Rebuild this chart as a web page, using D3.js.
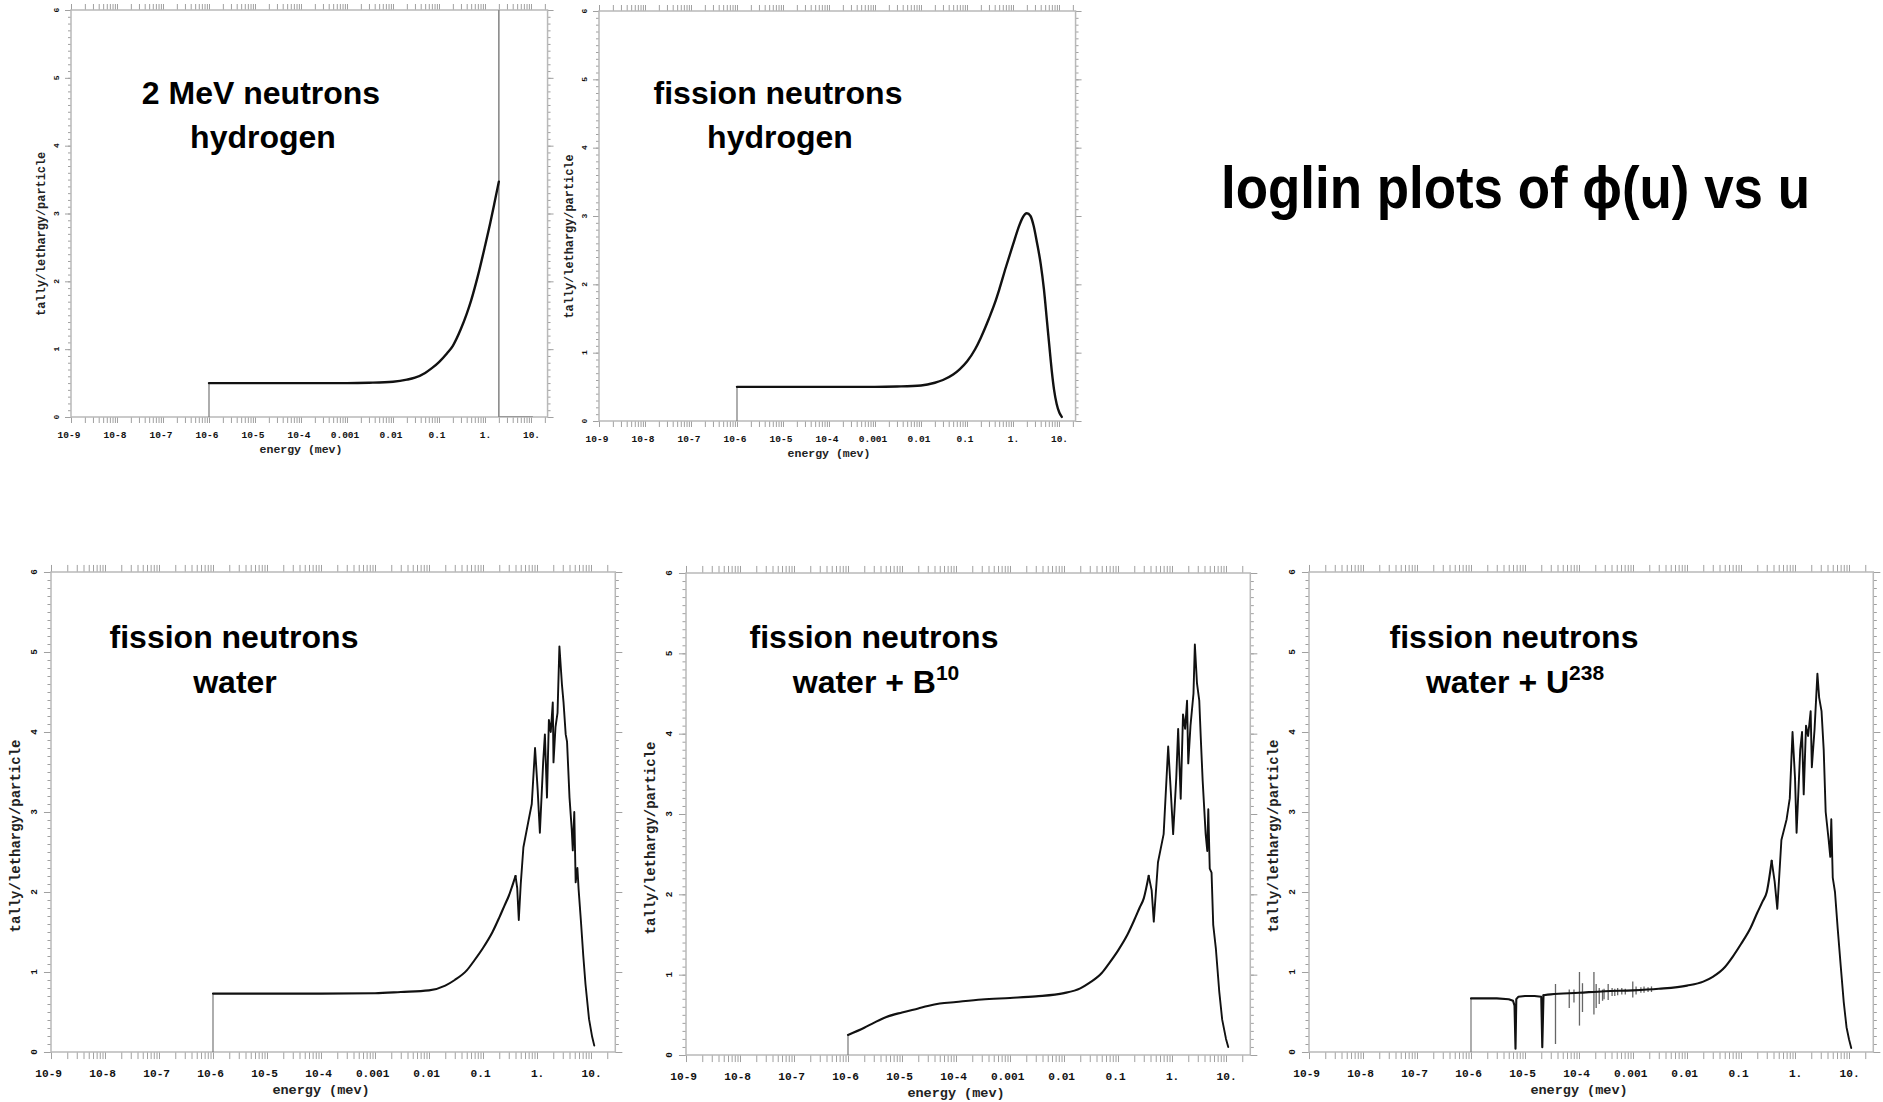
<!DOCTYPE html>
<html><head><meta charset="utf-8">
<script src="https://cdn.jsdelivr.net/npm/d3@7"></script>
<style>
html,body{margin:0;padding:0;background:#fff;}
svg{display:block;}
</style></head><body>
<svg id="chart" width="1883" height="1102"></svg>
<script>
// ---------------- DATA ----------------
const xTickValues = [1e-9,1e-8,1e-7,1e-6,1e-5,1e-4,1e-3,1e-2,1e-1,1,10];
const xTickLabels = ["10-9","10-8","10-7","10-6","10-5","10-4","0.001","0.01","0.1","1.","10."];
const yTickValues = [0,1,2,3,4,5,6];
const yTickLabels = ["0","1","2","3","4","5","6"];
const xAxisTitle = "energy (mev)";
const yAxisTitle = "tally/lethargy/particle";
const mainTitle = "loglin plots of \u03D5(u) vs u";

// 2 MeV neutrons in hydrogen
const h2E   = [1e-6,1e-5,1e-4,1e-3,0.003,0.01,0.02,0.03,0.05,0.07,0.1,0.15,0.2,0.3,0.4,0.5,0.7,1.0,1.3,1.6,2.0];
const h2Phi = [0.5,0.5,0.5,0.5,0.505,0.52,0.55,0.58,0.65,0.72,0.81,0.94,1.05,1.30,1.52,1.72,2.08,2.52,2.86,3.15,3.47];
const h2SourceE = 2.0;          // source line energy
const h2TailEnd = 11;           // zero tally above source up to here

// fission neutrons in hydrogen
const fhE   = [1e-6,1e-4,1e-3,0.003,0.01,0.02,0.03,0.05,0.07,0.1,0.15,0.2,0.3,0.4,0.5,0.7,1.0,1.3,1.6,2.0,2.4,2.8,3.3,4.0,4.7,5.5,6.2,7.0,7.8,8.9,10.2,11.5];
const fhPhi = [0.5,0.5,0.5,0.505,0.52,0.56,0.6,0.68,0.76,0.87,1.05,1.22,1.5,1.72,1.92,2.25,2.58,2.82,2.97,3.04,3.0,2.86,2.62,2.3,1.93,1.45,1.08,0.72,0.46,0.25,0.12,0.06];

// fission neutrons in water
const fwE   = [1e-6,1e-5,1e-4,1e-3,0.003,0.01,0.02,0.03,0.05,0.07,0.1,0.15,0.2,0.25,0.3,0.35,0.4,0.43,0.46,0.5,0.56,0.7,0.8,0.92,1.03,1.13,1.3,1.4,1.53,1.66,1.8,1.96,2.02,2.2,2.4,2.6,2.9,3.1,3.4,3.6,4.0,4.4,4.6,4.9,5.2,5.6,5.9,6.5,7.2,7.9,9.2,10.5,11.5];
const fwPhi = [0.73,0.73,0.73,0.735,0.75,0.77,0.83,0.9,1.02,1.15,1.3,1.5,1.68,1.83,1.95,2.08,2.2,2.05,1.65,2.1,2.56,2.9,3.1,3.8,3.27,2.74,3.62,3.97,3.18,4.15,4.0,4.37,3.62,4.06,4.24,5.07,4.59,4.37,3.97,3.88,3.18,2.78,2.52,3.0,2.12,2.3,2.03,1.64,1.2,0.85,0.41,0.19,0.08];

// fission neutrons in water + B10
const fbE   = [1e-6,2e-6,3e-6,5e-6,1e-5,2e-5,3e-5,5e-5,1e-4,3e-4,1e-3,0.003,0.01,0.02,0.03,0.05,0.07,0.1,0.15,0.2,0.25,0.3,0.37,0.42,0.46,0.55,0.7,0.85,0.95,1.05,1.2,1.3,1.45,1.6,1.75,1.9,2.0,2.2,2.5,2.65,2.9,3.2,3.4,3.7,4.2,4.5,4.7,5.0,5.4,5.8,6.5,7.5,8.5,10,11];
const fbPhi = [0.25,0.34,0.40,0.47,0.53,0.58,0.61,0.64,0.66,0.69,0.71,0.73,0.77,0.83,0.9,1.02,1.15,1.3,1.5,1.68,1.83,1.95,2.23,2.05,1.66,2.4,2.75,3.84,3.28,2.75,3.45,4.06,3.19,4.24,4.06,4.41,3.63,4.1,4.5,5.11,4.63,4.41,3.97,3.41,2.75,2.54,3.06,2.32,2.27,1.62,1.32,0.79,0.44,0.2,0.1];

// fission neutrons in water + U238
const fuE   = [1e-6,3e-6,5e-6,6.0e-6,6.4e-6,6.67e-6,6.9e-6,7.5e-6,1e-5,1.5e-5,2.0e-5,2.09e-5,2.2e-5,3e-5,1e-4,3e-4,1e-3,3e-3,0.01,0.02,0.03,0.05,0.07,0.1,0.15,0.2,0.25,0.3,0.37,0.42,0.47,0.56,0.7,0.8,0.9,1.0,1.07,1.25,1.35,1.45,1.6,1.75,1.95,2.05,2.3,2.6,2.8,3.1,3.4,3.7,4.2,4.5,4.7,5.0,5.5,6.2,7,8,9,10,11];
const fuPhi = [0.67,0.67,0.66,0.64,0.58,0.04,0.66,0.69,0.70,0.70,0.69,0.06,0.71,0.72,0.74,0.76,0.77,0.79,0.83,0.88,0.94,1.06,1.19,1.35,1.55,1.74,1.88,2.0,2.39,2.13,1.79,2.65,2.91,3.17,4.0,3.43,2.74,3.78,4.0,3.22,4.08,3.95,4.26,3.56,4.03,4.73,4.43,4.26,3.78,3.0,2.65,2.44,2.91,2.18,2.0,1.53,1.09,0.62,0.31,0.16,0.05];
// U238 resonance spikes: energy, low, high
const fuSpikeE  = [3.67e-5,6.6e-5,8.07e-5,1.02e-4,1.16e-4,1.89e-4,2.08e-4,2.37e-4,2.73e-4,2.91e-4,3.47e-4,4.1e-4,4.6e-4,5.2e-4,6.2e-4,7.2e-4,9.9e-4,1.14e-3,1.4e-3,1.6e-3,1.9e-3,2.2e-3];
const fuSpikeLo = [0.10,0.55,0.62,0.33,0.50,0.47,0.55,0.60,0.64,0.66,0.65,0.70,0.70,0.71,0.72,0.72,0.68,0.72,0.74,0.74,0.75,0.75];
const fuSpikeHi = [0.85,0.78,0.78,1.00,0.86,1.00,0.85,0.80,0.78,0.79,0.85,0.80,0.79,0.80,0.80,0.79,0.88,0.82,0.81,0.82,0.81,0.82];

// ---------------- LAYOUT ----------------
// smooth: energy range drawn with a smooth curve; outside it the trace is drawn straight
const panels = [
  {title:["2 MeV neutrons","hydrogen"], sup:null, E:h2E, phi:h2Phi, smooth:[1e-9,100], x0:71, dec:46, ext:0.36, top:10, bottom:417, k:1,
   tx:[261,263], ty:[104,148]},
  {title:["fission neutrons","hydrogen"], sup:null, E:fhE, phi:fhPhi, smooth:[1e-9,100], x0:599, dec:46, ext:0.36, top:11, bottom:421, k:1,
   tx:[778,780], ty:[104,148]},
  {title:["fission neutrons","water"], sup:null, E:fwE, phi:fwPhi, smooth:[1e-6,0.4], x0:51, dec:54.0, ext:0.45, top:572, bottom:1052, k:1.175,
   tx:[234,235], ty:[648,693]},
  {title:["fission neutrons","water + B"], sup:"10", E:fbE, phi:fbPhi, smooth:[1e-6,0.37], x0:686, dec:54.0, ext:0.45, top:573, bottom:1055, k:1.175,
   tx:[874,876], ty:[648,693]},
  {title:["fission neutrons","water + U"], sup:"238", E:fuE, phi:fuPhi, smooth:[2.2e-5,0.37], x0:1309, dec:54.0, ext:0.45, top:572, bottom:1052, k:1.175,
   tx:[1514,1515], ty:[648,693]}
];

const svg = d3.select("#chart");
const FRAME = "#b9b9b9", TICK = "#a0a0a0", MONO = "'Liberation Mono', 'DejaVu Sans Mono', monospace";
const SANS = "'Liberation Sans', Arial, Helvetica, sans-serif";
const minorY = d3.range(0, 61).map(i => i / 10);

panels.forEach((p, pi) => {
  const k = p.k;
  const xMax = Math.pow(10, 1 + p.ext);
  const x = d3.scaleLog().domain([1e-9, xMax]).range([p.x0, p.x0 + (10 + p.ext) * p.dec]);
  const y = d3.scaleLinear().domain([0, 6]).range([p.bottom, p.top]);
  const g = svg.append("g");
  const [xl, xr] = x.range();

  const minorX = [];
  for (let e = -9; e <= 1; e++) for (let m = 1; m <= 9; m++) {
    const v = m * Math.pow(10, e);
    if (v <= xMax * 0.97) minorX.push(v);
  }

  const cid = "clip" + pi;
  svg.append("clipPath").attr("id", cid).append("rect")
    .attr("x", xl).attr("y", p.top).attr("width", xr - xl).attr("height", p.bottom - p.top);

  const styleAxis = sel => {
    sel.select(".domain").remove();
    sel.selectAll(".tick line").attr("stroke", TICK).attr("stroke-width", 1);
  };
  g.append("g").attr("transform", `translate(0,${p.bottom})`)
    .call(d3.axisBottom(x).tickValues(minorX).tickSize(6 * k).tickFormat(() => "")).call(styleAxis);
  g.append("g").attr("transform", `translate(0,${p.top})`)
    .call(d3.axisTop(x).tickValues(minorX).tickSize(6 * k).tickFormat(() => "")).call(styleAxis);
  g.append("g").attr("transform", `translate(${xl},0)`)
    .call(d3.axisLeft(y).tickValues(minorY).tickSize(3 * k).tickFormat(() => "")).call(styleAxis);
  g.append("g").attr("transform", `translate(${xr},0)`)
    .call(d3.axisRight(y).tickValues(minorY).tickSize(3 * k).tickFormat(() => "")).call(styleAxis);
  g.append("g").attr("transform", `translate(${xl},0)`)
    .call(d3.axisLeft(y).tickValues(yTickValues).tickSize(6 * k).tickFormat(() => "")).call(styleAxis);
  g.append("g").attr("transform", `translate(${xr},0)`)
    .call(d3.axisRight(y).tickValues(yTickValues).tickSize(6 * k).tickFormat(() => "")).call(styleAxis);

  g.append("rect").attr("x", xl).attr("y", p.top).attr("width", xr - xl).attr("height", p.bottom - p.top)
    .attr("fill", "none").attr("stroke", FRAME).attr("stroke-width", 1.5);

  g.selectAll(".xl").data(xTickValues).enter().append("text")
    .attr("x", (d, i) => x(d) - 2 * k + (xTickLabels[i].endsWith(".") ? 2.5 * k : 0))
    .attr("y", p.bottom + 21 * k)
    .attr("text-anchor", "middle")
    .attr("font-family", MONO).attr("font-weight", "bold").attr("font-size", 9.5 * k)
    .attr("fill", "#111")
    .text((d, i) => xTickLabels[i]);

  g.selectAll(".yl").data(yTickValues).enter().append("text")
    .attr("transform", d => `translate(${xl - 12 * k},${y(d)}) rotate(-90)`)
    .attr("text-anchor", "middle")
    .attr("font-family", MONO).attr("font-weight", "bold").attr("font-size", 8 * k)
    .attr("fill", "#111")
    .text((d, i) => yTickLabels[i]);

  g.append("text")
    .attr("x", x(Math.sqrt(1e-9 * 10))).attr("y", p.bottom + 36 * k)
    .attr("text-anchor", "middle")
    .attr("font-family", MONO).attr("font-weight", "bold").attr("font-size", 11.5 * k)
    .attr("fill", "#222").text(xAxisTitle);
  g.append("text")
    .attr("transform", `translate(${xl - 26 * k},${p.top + 0.55 * (p.bottom - p.top)}) rotate(-90)`)
    .attr("text-anchor", "middle")
    .attr("font-family", MONO).attr("font-weight", "bold").attr("font-size", 11.9 * k)
    .attr("fill", "#222").text(yAxisTitle);

  const pts = p.E.map((e, i) => [e, p.phi[i]]);
  const plot = g.append("g").attr("clip-path", `url(#${cid})`);
  const gray = d3.line().x(d => x(d[0])).y(d => y(d[1]));
  plot.append("path").datum([[p.E[0], 0], pts[0]]).attr("d", gray)
    .attr("fill", "none").attr("stroke", "#777").attr("stroke-width", 1.2);
  if (pi === 0) {
    plot.append("path").datum([[h2SourceE, 6.5], [h2SourceE, 0], [h2TailEnd, 0]]).attr("d", gray)
      .attr("fill", "none").attr("stroke", "#8a8a8a").attr("stroke-width", 1.6);
  }
  if (pi === 4) {
    plot.selectAll(".spk").data(fuSpikeE).enter().append("line")
      .attr("x1", d => x(d)).attr("x2", d => x(d))
      .attr("y1", (d, i) => y(fuSpikeLo[i])).attr("y2", (d, i) => y(fuSpikeHi[i]))
      .attr("stroke", "#666").attr("stroke-width", 1.3);
  }
  const [sLo, sHi] = p.smooth;
  const before = pts.filter(d => d[0] <= sLo);
  const mid = pts.filter(d => d[0] >= sLo && d[0] <= sHi);
  const after = pts.filter(d => d[0] >= sHi);
  const lin = d3.line().x(d => x(d[0])).y(d => y(d[1])).curve(d3.curveLinear);
  const smo = d3.line().x(d => x(d[0])).y(d => y(d[1])).curve(d3.curveMonotoneX);
  const sw = (p.k === 1) ? 2.4 : 2.1;
  [[before, lin, sw], [mid, smo, sw], [after, lin, 1.9]].forEach(([seg, gen, w]) => {
    if (seg.length < 2) return;
    plot.append("path").datum(seg).attr("d", gen)
      .attr("fill", "none").attr("stroke", "#111").attr("stroke-width", w)
      .attr("stroke-linejoin", "round").attr("stroke-linecap", "round");
  });

  svg.append("text").attr("x", p.tx[0]).attr("y", p.ty[0]).attr("text-anchor", "middle")
    .attr("font-family", SANS).attr("font-weight", "bold").attr("font-size", 32).attr("fill", "#000")
    .text(p.title[0]);
  const t2 = svg.append("text").attr("x", p.tx[1]).attr("y", p.ty[1]).attr("text-anchor", "middle")
    .attr("font-family", SANS).attr("font-weight", "bold").attr("font-size", 32).attr("fill", "#000");
  t2.append("tspan").text(p.title[1]);
  if (p.sup) t2.append("tspan").attr("dy", -13).attr("font-size", 21).text(p.sup);
});

svg.append("text").attr("x", 1221).attr("y", 208)
  .attr("font-family", SANS).attr("font-weight", "bold").attr("font-size", 59)
  .attr("textLength", 589).attr("lengthAdjust", "spacingAndGlyphs")
  .attr("fill", "#000").text(mainTitle);
</script>
</body></html>
